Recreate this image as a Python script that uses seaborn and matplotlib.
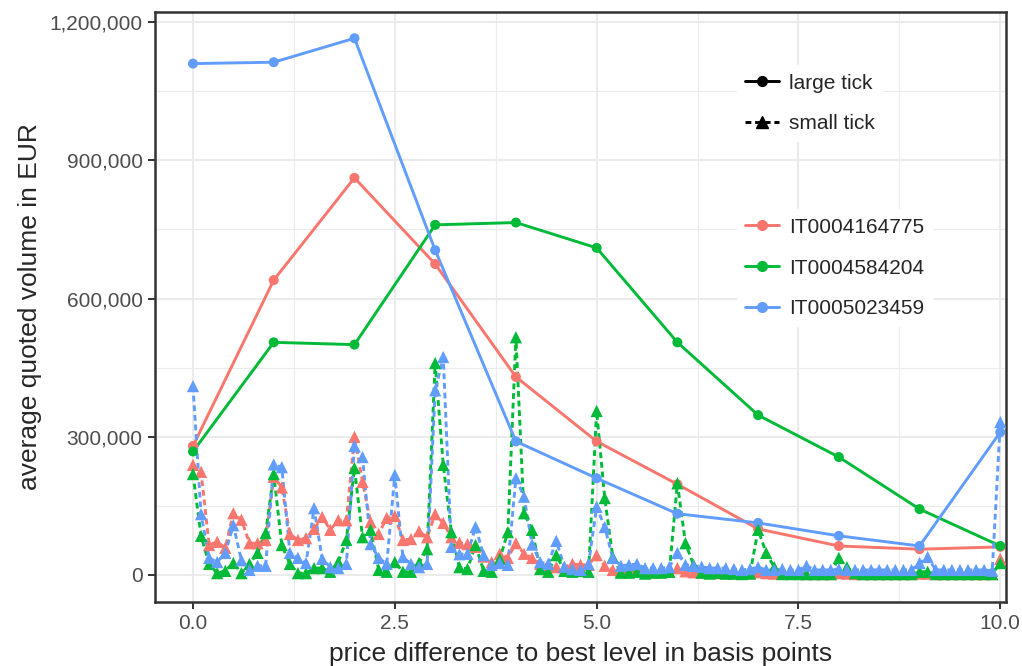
import seaborn as sns
import matplotlib.pyplot as plt
from matplotlib.lines import Line2D
from matplotlib.ticker import FuncFormatter, MultipleLocator
import pandas as pd
import numpy as np

isins = ["IT0004164775", "IT0004584204", "IT0005023459"]
colors = ["#F8766D", "#00BA38", "#619CFF"]

# large tick: one value per basis point (0..10)
large_x = [0, 1, 2, 3, 4, 5, 6, 7, 8, 9, 10]
large_164775 = [280000, 640000, 862000, 675000, 430000, 290000, 197000, 100000, 63000, 56000, 61000]
large_584204 = [268000, 505000, 500000, 760000, 765000, 710000, 505000, 347000, 256000, 143000, 63000]
large_023459 = [1110000, 1113000, 1165000, 705000, 290000, 210000, 133000, 113000, 85000, 63000, 310000]

# small tick: one value per 0.1 basis point (0..10), in thousands EUR
small_x = [round(0.1 * i, 1) for i in range(101)]
small_164775 = [239, 224, 65, 72, 59, 134, 120, 69, 69, 76,
                213, 190, 89, 76, 80, 100, 126, 98, 119, 119,
                300, 202, 115, 89, 124, 128, 76, 78, 95, 82,
                132, 113, 82, 70, 67, 61, 40, 28, 46, 37,
                69, 46, 37, 24, 22, 17, 17, 24, 22, 22,
                43, 20, 11, 8, 8, 10, 7, 6, 8, 7,
                15, 8, 6, 5, 5, 4, 4, 4, 3, 4,
                6, 4, 3, 3, 3, 3, 2, 2, 2, 2,
                4, 3, 2, 2, 2, 2, 2, 2, 2, 2,
                3, 3, 2, 2, 2, 2, 2, 2, 2, 2,
                35]
small_584204 = [219, 85, 24, 4, 9, 26, 4, 24, 48, 91,
                219, 65, 24, 4, 4, 15, 15, 7, 28, 76,
                232, 82, 98, 11, 7, 28, 7, 7, 26, 56,
                460, 239, 93, 17, 13, 65, 9, 7, 35, 93,
                516, 134, 98, 13, 7, 43, 9, 7, 9, 7,
                356, 167, 39, 5, 5, 7, 3, 5, 5, 7,
                199, 69, 22, 5, 3, 5, 3, 3, 2, 3,
                98, 48, 17, 2, 2, 2, 2, 2, 2, 2,
                37, 17, 4, 2, 2, 2, 2, 2, 2, 2,
                7, 7, 2, 2, 2, 2, 2, 2, 2, 2,
                26]
small_023459 = [410, 132, 37, 28, 48, 108, 32, 11, 20, 20,
                240, 234, 48, 37, 26, 145, 35, 17, 15, 24,
                280, 256, 67, 37, 24, 217, 39, 24, 17, 24,
                401, 473, 61, 45, 46, 104, 43, 22, 26, 22,
                210, 170, 66, 28, 24, 74, 18, 13, 11, 24,
                148, 104, 37, 20, 22, 24, 15, 15, 15, 17,
                48, 22, 20, 18, 15, 15, 15, 13, 11, 13,
                17, 11, 11, 13, 11, 11, 20, 11, 11, 11,
                13, 11, 11, 11, 11, 11, 11, 11, 11, 11,
                26, 39, 11, 11, 11, 11, 11, 11, 11, 9,
                332]

frames = []
for isin, vals in zip(isins, [large_164775, large_584204, large_023459]):
    frames.append(pd.DataFrame({"x": large_x, "volume": vals, "isin": isin, "tick": "large tick"}))
for isin, vals in zip(isins, [small_164775, small_584204, small_023459]):
    frames.append(pd.DataFrame({"x": small_x, "volume": np.array(vals) * 1000, "isin": isin,
                                "tick": "small tick"}))
df = pd.concat(frames, ignore_index=True)

sns.set_style("white")
plt.rcParams["font.family"] = ["Liberation Sans", "DejaVu Sans"]

palette = dict(zip(isins, colors))
dash_pat = (2, 1.3)
lw = 2.1

fig, ax = plt.subplots(figsize=(10.22, 6.66), dpi=100)
fig.subplots_adjust(left=0.1517, right=0.9843, top=0.982, bottom=0.0961)

sns.lineplot(data=df, x="x", y="volume", hue="isin", style="tick", palette=palette,
             dashes={"large tick": "", "small tick": dash_pat}, linewidth=lw,
             estimator=None, legend=False, ax=ax, zorder=2)
sns.scatterplot(data=df[df["tick"] == "large tick"], x="x", y="volume", hue="isin",
                palette=palette, marker="o", s=52, linewidth=0, legend=False, ax=ax, zorder=3)
sns.scatterplot(data=df[df["tick"] == "small tick"], x="x", y="volume", hue="isin",
                palette=palette, marker="^", s=78, linewidth=0, legend=False, ax=ax, zorder=3)

ax.set_xlim(-0.47, 10.07)
ax.set_ylim(-58600, 1222000)
ax.xaxis.set_major_locator(MultipleLocator(2.5))
ax.xaxis.set_minor_locator(MultipleLocator(1.25))
ax.yaxis.set_major_locator(MultipleLocator(300000))
ax.yaxis.set_minor_locator(MultipleLocator(150000))
ax.xaxis.set_major_formatter(FuncFormatter(lambda v, p: f"{v:.1f}"))
ax.yaxis.set_major_formatter(FuncFormatter(lambda v, p: f"{int(v):,}"))

ax.grid(which="major", color="#EBEBEB", linewidth=1.5, zorder=0)
ax.grid(which="minor", color="#EBEBEB", linewidth=0.8, zorder=0)
ax.set_axisbelow(True)
for s in ax.spines.values():
    s.set_color("#333333")
    s.set_linewidth(1.8)

ax.tick_params(which="major", length=5, width=1.4, color="#333333", labelsize=15,
               labelcolor="#4D4D4D", pad=4, bottom=True, left=True)
ax.tick_params(which="minor", length=0)

ax.set_xlabel("price difference to best level in basis points", fontsize=19, labelpad=6)
ax.set_ylabel("average quoted volume in EUR", fontsize=19, labelpad=5)

# legends
tick_handles = [
    Line2D([], [], color="black", lw=lw, marker="o", ms=7, label="large tick"),
    Line2D([], [], color="black", lw=lw, ls=(0, dash_pat), marker="^", ms=9, label="small tick"),
]
leg1 = ax.legend(handles=tick_handles, loc="center left", bbox_to_anchor=(0.684, 0.845),
                 borderaxespad=0, borderpad=0.4, fontsize=15, handlelength=1.6,
                 handletextpad=0.5, labelspacing=1.05, frameon=True, fancybox=False,
                 facecolor="white", edgecolor="none", framealpha=1)
ax.add_artist(leg1)

isin_handles = [Line2D([], [], color=c, lw=lw, marker="o", ms=7, label=i)
                for i, c in zip(isins, colors)]
ax.legend(handles=isin_handles, loc="center left", bbox_to_anchor=(0.684, 0.566),
          borderaxespad=0, borderpad=0.4, fontsize=15, handlelength=1.6,
          handletextpad=0.5, labelspacing=1.05, frameon=True, fancybox=False,
          facecolor="white", edgecolor="none", framealpha=1)

plt.savefig("out.png", dpi=100)
